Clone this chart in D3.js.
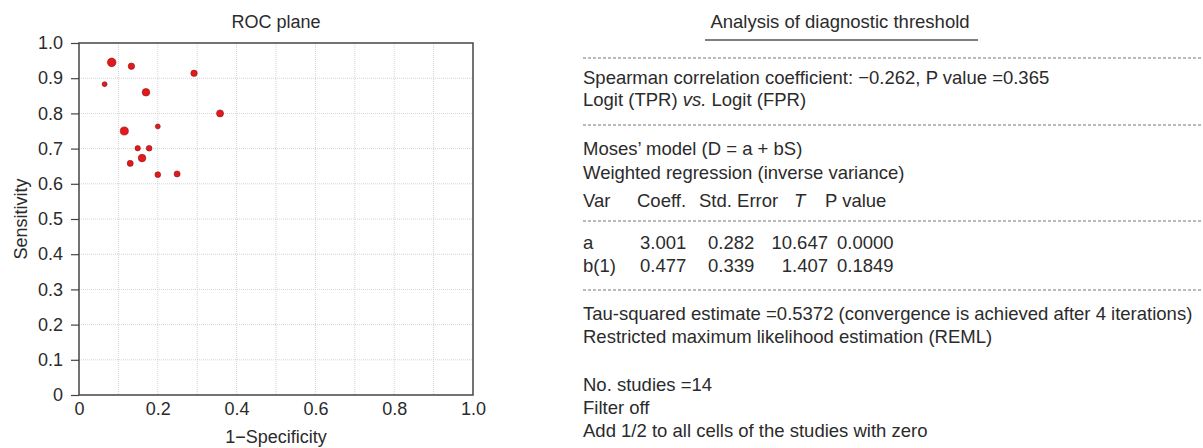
<!DOCTYPE html>
<html>
<head>
<meta charset="utf-8">
<script src="https://cdn.jsdelivr.net/npm/d3@7"></script>
<style>
  body { margin: 0; background: #fff; }
  svg text { font-family: "Liberation Sans", Arial, sans-serif; fill: #2b2b2b; }
</style>
</head>
<body>
<div id="chart"></div>
<script>
// study points on the ROC plane (1-specificity, sensitivity, relative weight)
const fpr = [0.083, 0.133, 0.065, 0.292, 0.170, 0.358, 0.115, 0.200, 0.149, 0.178, 0.160, 0.130, 0.200, 0.249];
const tpr = [0.945, 0.934, 0.883, 0.914, 0.860, 0.800, 0.750, 0.763, 0.701, 0.701, 0.673, 0.658, 0.626, 0.628];
const weight = [18, 10, 6, 10, 14, 12, 16, 6, 7, 8, 14, 9, 8, 9];
const xTicks = [0, 0.2, 0.4, 0.6, 0.8, 1.0];
const yTicks = [0, 0.1, 0.2, 0.3, 0.4, 0.5, 0.6, 0.7, 0.8, 0.9, 1.0];
const gridVals = d3.range(1, 10).map(i => i / 10);

// text panel
const tableHead = ['Var', 'Coeff.', 'Std. Error', 'T', 'P value'];
const tableVar = ['a', 'b(1)'];
const tableCoeff = ['3.001', '0.477'];
const tableSE = ['0.282', '0.339'];
const tableT = ['10.647', '1.407'];
const tableP = ['0.0000', '0.1849'];

const W = 1203, H = 448;
const svg = d3.select('#chart').append('svg')
  .attr('width', W)
  .attr('height', H);

// ---- ROC plane ----
const m = { left: 79, right: 473, top: 43, bottom: 395 };
const x = d3.scaleLinear().domain([0, 1]).range([m.left, m.right]);
const y = d3.scaleLinear().domain([0, 1]).range([m.bottom, m.top]);
const r = d3.scaleSqrt().domain([0, d3.max(weight)]).range([0, 4.3]);

const grid = svg.append('g');
grid.selectAll('.gx').data(gridVals).enter().append('line')
  .attr('x1', d => x(d)).attr('x2', d => x(d))
  .attr('y1', m.top).attr('y2', m.bottom)
  .style('stroke', '#d4d4d4').style('stroke-dasharray', '1,1');
grid.selectAll('.gy').data(gridVals).enter().append('line')
  .attr('y1', d => y(d)).attr('y2', d => y(d))
  .attr('x1', m.left).attr('x2', m.right)
  .style('stroke', '#d4d4d4').style('stroke-dasharray', '1,1');

const fmt = d => d === 0 ? '0' : d3.format('.1f')(d);

const yAxis = svg.append('g')
  .attr('transform', 'translate(' + m.left + ',0)')
  .call(d3.axisLeft(y).tickValues(yTicks).tickFormat(fmt).tickSize(8).tickPadding(8));
yAxis.select('.domain').remove();
yAxis.selectAll('.tick line').style('stroke', '#444').style('stroke-width', 1.2);
yAxis.selectAll('text').style('font-size', '18px').style('fill', '#2b2b2b');

const xAxis = svg.append('g')
  .attr('transform', 'translate(0,' + m.bottom + ')')
  .call(d3.axisBottom(x).tickValues(xTicks).tickFormat(fmt).tickSize(0).tickPadding(7));
xAxis.select('.domain').remove();
xAxis.selectAll('text').style('font-size', '18px').style('fill', '#2b2b2b');

svg.append('rect')
  .attr('x', m.left).attr('y', m.top)
  .attr('width', m.right - m.left).attr('height', m.bottom - m.top)
  .style('fill', 'none').style('stroke', '#444').style('stroke-width', 1.5);

svg.append('g').selectAll('circle')
  .data(fpr.map((d, i) => ({ fpr: d, tpr: tpr[i], w: weight[i] })))
  .enter().append('circle')
  .attr('cx', d => x(d.fpr))
  .attr('cy', d => y(d.tpr))
  .attr('r', d => r(d.w))
  .style('fill', '#e3191c')
  .style('stroke', '#8a1414')
  .style('stroke-width', 0.6);

svg.append('text')
  .attr('x', (m.left + m.right) / 2).attr('y', 28)
  .attr('text-anchor', 'middle')
  .style('font-size', '18px')
  .text('ROC plane');

svg.append('text')
  .attr('x', (m.left + m.right) / 2).attr('y', 443)
  .attr('text-anchor', 'middle')
  .style('font-size', '18px')
  .text('1\u2212Specificity');

svg.append('text')
  .attr('transform', 'translate(27,' + ((m.top + m.bottom) / 2) + ') rotate(-90)')
  .attr('text-anchor', 'middle')
  .style('font-size', '18px')
  .text('Sensitivity');

// ---- Analysis of diagnostic threshold ----
const tx = 583;
const panel = svg.append('g').style('font-size', '18.5px');

panel.append('text')
  .attr('x', 840).attr('y', 28)
  .attr('text-anchor', 'middle')
  .text('Analysis of diagnostic threshold');
panel.append('line')
  .attr('x1', 705).attr('x2', 978).attr('y1', 40).attr('y2', 40)
  .style('stroke', '#555').style('stroke-width', 1.5);

const dashY = [58, 125, 221, 290];
panel.selectAll('.dash').data(dashY).enter().append('line')
  .attr('x1', tx).attr('x2', W)
  .attr('y1', d => d).attr('y2', d => d)
  .style('stroke', '#777').style('stroke-dasharray', '3,2');

const line = (yy, str) => panel.append('text').attr('x', tx).attr('y', yy).text(str);

line(84, 'Spearman correlation coefficient: \u22120.262, P value =0.365');
const logit = panel.append('text').attr('x', tx).attr('y', 106);
logit.append('tspan').text('Logit (TPR) ');
logit.append('tspan').style('font-style', 'italic').text('vs.');
logit.append('tspan').text(' Logit (FPR)');
line(155, 'Moses\u2019 model (D = a + bS)');
line(179, 'Weighted regression (inverse variance)');

const colX = [583, 637, 699, 794, 825];
panel.selectAll('.head').data(tableHead).enter().append('text')
  .attr('x', (d, i) => colX[i]).attr('y', 207)
  .style('font-style', d => d === 'T' ? 'italic' : 'normal')
  .text(d => d);

const rowY = [249, 272];
const cols = [
  { vals: tableVar, x: 583, anchor: 'start' },
  { vals: tableCoeff, x: 640, anchor: 'start' },
  { vals: tableSE, x: 708, anchor: 'start' },
  { vals: tableT, x: 828, anchor: 'end' },
  { vals: tableP, x: 837, anchor: 'start' }
];
cols.forEach(c => {
  panel.selectAll(null).data(c.vals).enter().append('text')
    .attr('x', c.x).attr('y', (d, i) => rowY[i])
    .attr('text-anchor', c.anchor)
    .text(d => d);
});

line(320, 'Tau-squared estimate =0.5372 (convergence is achieved after 4 iterations)');
line(343, 'Restricted maximum likelihood estimation (REML)');
line(391, 'No. studies =14');
line(414, 'Filter off');
line(437, 'Add 1/2 to all cells of the studies with zero');
</script>
</body>
</html>
